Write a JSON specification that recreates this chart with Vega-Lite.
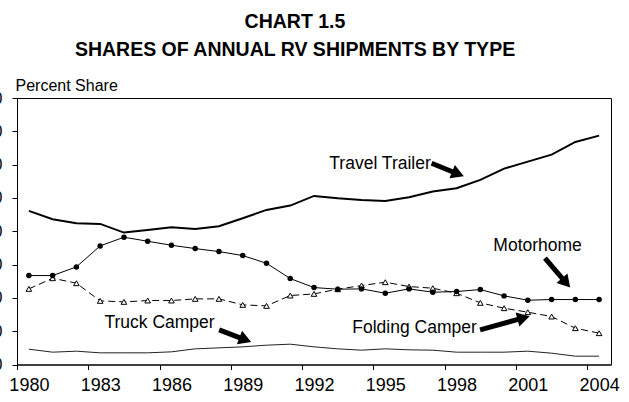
{
  "$schema": "https://vega.github.io/schema/vega-lite/v6.json",
  "width": 594,
  "height": 266.5,
  "autosize": "none",
  "padding": {"left": 17, "top": 98, "right": 18, "bottom": 37.5},
  "background": "white",
  "title": {
    "text": ["CHART 1.5", "SHARES OF ANNUAL RV SHIPMENTS BY TYPE"],
    "font": "Liberation Sans",
    "fontSize": 19.5,
    "fontWeight": "bold",
    "color": "black",
    "lineHeight": 28,
    "anchor": "middle",
    "frame": "group",
    "dx": -19,
    "offset": 17
  },
  "config": {
    "view": {"stroke": "black", "strokeWidth": 1},
    "font": "Liberation Sans",
    "axis": {
      "grid": false,
      "domainColor": "black",
      "domainWidth": 1,
      "tickColor": "black",
      "tickSize": 5,
      "labelColor": "black",
      "labelFont": "Liberation Sans",
      "titleFont": "Liberation Sans",
      "titleColor": "black"
    }
  },
  "datasets": {
    "series": [
      {"year": 1980, "type": "Travel Trailer", "share": 46.1},
      {"year": 1981, "type": "Travel Trailer", "share": 43.6},
      {"year": 1982, "type": "Travel Trailer", "share": 42.4},
      {"year": 1983, "type": "Travel Trailer", "share": 42.2},
      {"year": 1984, "type": "Travel Trailer", "share": 39.6},
      {"year": 1985, "type": "Travel Trailer", "share": 40.4},
      {"year": 1986, "type": "Travel Trailer", "share": 41.2},
      {"year": 1987, "type": "Travel Trailer", "share": 40.7},
      {"year": 1988, "type": "Travel Trailer", "share": 41.5},
      {"year": 1989, "type": "Travel Trailer", "share": 43.9},
      {"year": 1990, "type": "Travel Trailer", "share": 46.4},
      {"year": 1991, "type": "Travel Trailer", "share": 47.7},
      {"year": 1992, "type": "Travel Trailer", "share": 50.6},
      {"year": 1993, "type": "Travel Trailer", "share": 49.9},
      {"year": 1994, "type": "Travel Trailer", "share": 49.4},
      {"year": 1995, "type": "Travel Trailer", "share": 49.1},
      {"year": 1996, "type": "Travel Trailer", "share": 50.2},
      {"year": 1997, "type": "Travel Trailer", "share": 51.9},
      {"year": 1998, "type": "Travel Trailer", "share": 52.9},
      {"year": 1999, "type": "Travel Trailer", "share": 55.4},
      {"year": 2000, "type": "Travel Trailer", "share": 58.8},
      {"year": 2001, "type": "Travel Trailer", "share": 60.9},
      {"year": 2002, "type": "Travel Trailer", "share": 63.0},
      {"year": 2003, "type": "Travel Trailer", "share": 66.8},
      {"year": 2004, "type": "Travel Trailer", "share": 68.7},
      {"year": 1980, "type": "Motorhome", "share": 26.7},
      {"year": 1981, "type": "Motorhome", "share": 26.7},
      {"year": 1982, "type": "Motorhome", "share": 29.3},
      {"year": 1983, "type": "Motorhome", "share": 35.6},
      {"year": 1984, "type": "Motorhome", "share": 38.2},
      {"year": 1985, "type": "Motorhome", "share": 37.0},
      {"year": 1986, "type": "Motorhome", "share": 35.8},
      {"year": 1987, "type": "Motorhome", "share": 34.8},
      {"year": 1988, "type": "Motorhome", "share": 33.9},
      {"year": 1989, "type": "Motorhome", "share": 32.7},
      {"year": 1990, "type": "Motorhome", "share": 30.4},
      {"year": 1991, "type": "Motorhome", "share": 25.8},
      {"year": 1992, "type": "Motorhome", "share": 23.1},
      {"year": 1993, "type": "Motorhome", "share": 22.6},
      {"year": 1994, "type": "Motorhome", "share": 22.7},
      {"year": 1995, "type": "Motorhome", "share": 21.4},
      {"year": 1996, "type": "Motorhome", "share": 22.7},
      {"year": 1997, "type": "Motorhome", "share": 21.7},
      {"year": 1998, "type": "Motorhome", "share": 21.9},
      {"year": 1999, "type": "Motorhome", "share": 22.5},
      {"year": 2000, "type": "Motorhome", "share": 20.6},
      {"year": 2001, "type": "Motorhome", "share": 19.3},
      {"year": 2002, "type": "Motorhome", "share": 19.5},
      {"year": 2003, "type": "Motorhome", "share": 19.5},
      {"year": 2004, "type": "Motorhome", "share": 19.5},
      {"year": 1980, "type": "Folding Camper", "share": 22.7},
      {"year": 1981, "type": "Folding Camper", "share": 25.9},
      {"year": 1982, "type": "Folding Camper", "share": 24.4},
      {"year": 1983, "type": "Folding Camper", "share": 19.1},
      {"year": 1984, "type": "Folding Camper", "share": 18.8},
      {"year": 1985, "type": "Folding Camper", "share": 19.2},
      {"year": 1986, "type": "Folding Camper", "share": 19.2},
      {"year": 1987, "type": "Folding Camper", "share": 19.7},
      {"year": 1988, "type": "Folding Camper", "share": 19.7},
      {"year": 1989, "type": "Folding Camper", "share": 17.9},
      {"year": 1990, "type": "Folding Camper", "share": 17.6},
      {"year": 1991, "type": "Folding Camper", "share": 20.7},
      {"year": 1992, "type": "Folding Camper", "share": 21.2},
      {"year": 1993, "type": "Folding Camper", "share": 22.6},
      {"year": 1994, "type": "Folding Camper", "share": 23.7},
      {"year": 1995, "type": "Folding Camper", "share": 24.7},
      {"year": 1996, "type": "Folding Camper", "share": 23.4},
      {"year": 1997, "type": "Folding Camper", "share": 22.9},
      {"year": 1998, "type": "Folding Camper", "share": 21.4},
      {"year": 1999, "type": "Folding Camper", "share": 18.5},
      {"year": 2000, "type": "Folding Camper", "share": 16.9},
      {"year": 2001, "type": "Folding Camper", "share": 15.7},
      {"year": 2002, "type": "Folding Camper", "share": 14.4},
      {"year": 2003, "type": "Folding Camper", "share": 10.9},
      {"year": 2004, "type": "Folding Camper", "share": 9.4},
      {"year": 1980, "type": "Truck Camper", "share": 4.6},
      {"year": 1981, "type": "Truck Camper", "share": 3.7},
      {"year": 1982, "type": "Truck Camper", "share": 4.0},
      {"year": 1983, "type": "Truck Camper", "share": 3.5},
      {"year": 1984, "type": "Truck Camper", "share": 3.5},
      {"year": 1985, "type": "Truck Camper", "share": 3.5},
      {"year": 1986, "type": "Truck Camper", "share": 3.8},
      {"year": 1987, "type": "Truck Camper", "share": 4.7},
      {"year": 1988, "type": "Truck Camper", "share": 5.0},
      {"year": 1989, "type": "Truck Camper", "share": 5.3},
      {"year": 1990, "type": "Truck Camper", "share": 5.8},
      {"year": 1991, "type": "Truck Camper", "share": 6.1},
      {"year": 1992, "type": "Truck Camper", "share": 5.3},
      {"year": 1993, "type": "Truck Camper", "share": 4.7},
      {"year": 1994, "type": "Truck Camper", "share": 4.3},
      {"year": 1995, "type": "Truck Camper", "share": 4.7},
      {"year": 1996, "type": "Truck Camper", "share": 4.4},
      {"year": 1997, "type": "Truck Camper", "share": 4.3},
      {"year": 1998, "type": "Truck Camper", "share": 3.7},
      {"year": 1999, "type": "Truck Camper", "share": 3.7},
      {"year": 2000, "type": "Truck Camper", "share": 3.7},
      {"year": 2001, "type": "Truck Camper", "share": 4.0},
      {"year": 2002, "type": "Truck Camper", "share": 3.4},
      {"year": 2003, "type": "Truck Camper", "share": 2.5},
      {"year": 2004, "type": "Truck Camper", "share": 2.5}
    ],
    "labels": [
      {"label": "Travel Trailer", "year": 1994.78, "share": 60.3},
      {"label": "Motorhome", "year": 2001.41, "share": 35.5},
      {"label": "Truck Camper", "year": 1985.5, "share": 12.4},
      {"label": "Folding Camper", "year": 1996.23, "share": 10.9}
    ],
    "arrows": [
      {"label": "Travel Trailer", "year": 1996.95, "share": 60.4, "year2": 1998.06, "share2": 57.2, "angle": 112},
      {"label": "Motorhome", "year": 2001.72, "share": 31.9, "year2": 2002.61, "share2": 24.5, "angle": 139},
      {"label": "Truck Camper", "year": 1988.01, "share": 10.4, "year2": 1989.11, "share2": 7.4, "angle": 111},
      {"label": "Folding Camper", "year": 1998.99, "share": 10.4, "year2": 2000.82, "share2": 14.0, "angle": 75}
    ]
  },
  "encoding": {
    "x": {
      "field": "year",
      "type": "quantitative",
      "scale": {"domain": [1979.5, 2004.5], "nice": false, "zero": false},
      "axis": {
        "title": null,
        "values": [1979.5, 1982.5, 1985.5, 1988.5, 1991.5, 1994.5, 1997.5, 2000.5, 2003.5],
        "labelExpr": "format(datum.value + 0.5, 'd')",
        "labelOffset": 11.88,
        "labelFontSize": 18,
        "labelPadding": 7,
        "labelFlush": false,
        "labelOverlap": false
      }
    },
    "y": {
      "field": "share",
      "type": "quantitative",
      "scale": {"domain": [0, 80], "nice": false, "zero": true},
      "axis": {
        "values": [0, 10, 20, 30, 40, 50, 60, 70, 80],
        "labelFontSize": 16,
        "labelPadding": 10,
        "labelFlush": false,
        "labelOverlap": false,
        "title": "Percent Share",
        "titleAngle": 0,
        "titleAlign": "left",
        "titleBaseline": "alphabetic",
        "titleFontSize": 16,
        "titleFontWeight": "normal",
        "titleX": -2,
        "titleY": -8
      }
    }
  },
  "layer": [
    {
      "data": {"name": "series"},
      "transform": [{"filter": "datum.type === 'Truck Camper'"}],
      "mark": {"type": "line", "color": "#222222", "strokeWidth": 1}
    },
    {
      "data": {"name": "series"},
      "transform": [{"filter": "datum.type === 'Folding Camper'"}],
      "mark": {"type": "line", "color": "black", "strokeWidth": 1, "strokeDash": [7, 4]}
    },
    {
      "data": {"name": "series"},
      "transform": [{"filter": "datum.type === 'Folding Camper'"}],
      "mark": {"type": "point", "shape": "triangle-up", "filled": true, "fill": "white", "stroke": "black", "strokeWidth": 1, "size": 32, "opacity": 1}
    },
    {
      "data": {"name": "series"},
      "transform": [{"filter": "datum.type === 'Motorhome'"}],
      "mark": {"type": "line", "color": "black", "strokeWidth": 1}
    },
    {
      "data": {"name": "series"},
      "transform": [{"filter": "datum.type === 'Motorhome'"}],
      "mark": {"type": "point", "shape": "circle", "filled": true, "fill": "black", "stroke": null, "size": 30, "opacity": 1}
    },
    {
      "data": {"name": "series"},
      "transform": [{"filter": "datum.type === 'Travel Trailer'"}],
      "mark": {"type": "line", "color": "black", "strokeWidth": 2}
    },
    {
      "data": {"name": "labels"},
      "mark": {"type": "text", "font": "Liberation Sans", "fontSize": 17.5, "color": "black", "align": "center", "baseline": "middle"},
      "encoding": {"text": {"field": "label"}}
    },
    {
      "data": {"name": "arrows"},
      "mark": {"type": "rule", "color": "black", "strokeWidth": 5},
      "encoding": {
        "x2": {"field": "year2"},
        "y2": {"field": "share2"}
      }
    },
    {
      "data": {"name": "arrows"},
      "mark": {"type": "point", "shape": "triangle-up", "filled": true, "fill": "black", "stroke": null, "size": 210, "opacity": 1},
      "encoding": {
        "x": {"field": "year2", "type": "quantitative"},
        "y": {"field": "share2", "type": "quantitative"},
        "angle": {"field": "angle", "type": "quantitative", "scale": null}
      }
    }
  ]
}
